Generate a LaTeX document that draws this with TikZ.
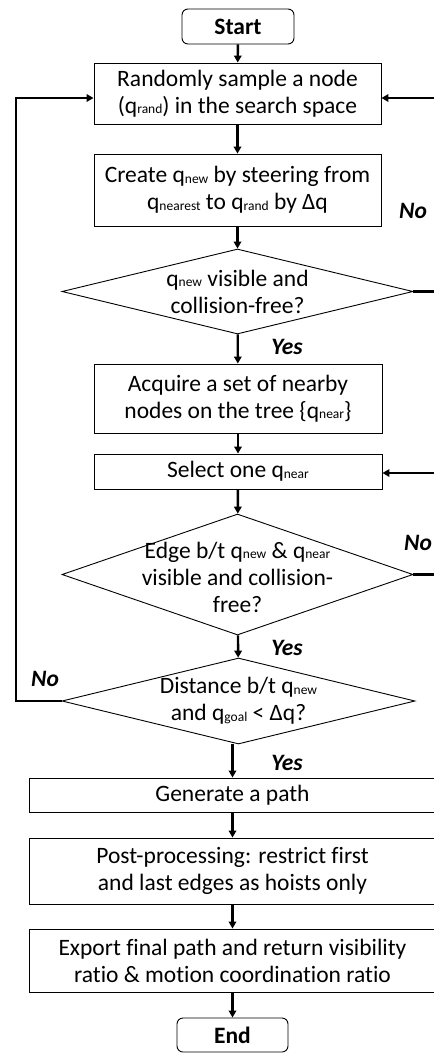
\documentclass[tikz,border=0pt]{standalone}
\usepackage{fontspec}
\setmainfont{Carlito}[Ligatures={NoCommon,NoRare}]
\usetikzlibrary{shapes.geometric,arrows.meta}
\newcommand{\qs}[1]{q\raisebox{-0.6pt}{\fontsize{13.5}{13.5}\selectfont #1}}
\begin{document}
\begin{tikzpicture}[x=1pt,y=-1pt,
  every node/.style={font=\fontsize{23.5}{27}\selectfont},
  box/.style={draw,line width=0.9pt,inner sep=0pt,align=center},
  term/.style={box,rounded corners=6pt,font=\fontsize{23.5}{27}\selectfont\bfseries},
  dia/.style={draw,line width=0.9pt,diamond,inner sep=0pt},
  dtext/.style={align=center,inner sep=0pt},
  arr/.style={line width=2.4pt,-{Triangle[length=7pt,width=7.5pt]}},
  yn/.style={font=\fontsize{23.5}{27}\selectfont\bfseries\itshape,inner sep=0pt}]
\useasboundingbox (0,0) rectangle (434,1053);
\clip (0,0) rectangle (434,1053);
\node[term,minimum width=112pt,minimum height=35pt] (start) at (238,26.5) {Start};
\node[box,minimum width=287pt,minimum height=61pt] (b1) at (237.5,93.5) {Randomly sample a node\\(\qs{rand}) in the search space};
\node[box,minimum width=287pt,minimum height=72pt] (b2) at (237.5,190) {Create \qs{new} by steering from\\\qs{nearest} to \qs{rand} by Δq};
\node[dia,minimum width=351pt,minimum height=85pt] (d1) at (237.5,291.5) {};
\node[dtext] (d1t) at (d1) {\qs{new} visible and\\collision-free?};
\node[box,minimum width=288pt,minimum height=69pt] (b3) at (238,398.5) {Acquire a set of nearby\\nodes on the tree \{\qs{near}\}};
\node[box,minimum width=288pt,minimum height=35pt] (b4) at (238,471.5) {Select one \qs{near}};
\node[dia,minimum width=351pt,minimum height=121pt] (d2) at (237.5,574.5) {};
\node[dtext] (d2t) at (237.5,577) {Edge b/t \qs{new} \& \qs{near}\\visible and collision-\\free?};
\node[dia,minimum width=353pt,minimum height=86pt] (d3) at (238.5,701) {};
\node[dtext] (d3t) at (d3) {Distance b/t \qs{new}\\and \qs{goal} < Δq?};
\node[box,minimum width=407pt,minimum height=34pt] (b5) at (232.5,795) {Generate a path};
\node[box,minimum width=407pt,minimum height=66pt] (b6) at (232.5,871) {Post-processing: restrict first\\and last edges as hoists only};
\node[box,minimum width=407pt,minimum height=63pt] (b7) at (232.5,960.5) {Export final path and return visibility\\ratio \& motion coordination ratio};
\node[term,minimum width=111pt,minimum height=34pt] (end) at (232.5,1035) {End};
\coordinate (r1) at (445,291.5);
\coordinate (r1t) at (445,98);
\coordinate (r2) at (445,574.5);
\coordinate (r2t) at (445,473);
\coordinate (l3) at (16,701);
\coordinate (l3t) at (16,98);
\draw[arr] (start) -- (b1);
\draw[arr] (b1) -- (b2);
\draw[arr] (b2) -- (d1);
\draw[arr] (d1) -- (b3);
\draw[arr] (b3) -- (b4);
\draw[arr] (b4) -- (d2);
\draw[arr] (d2) -- (d3);
\draw[arr] (d3.south -| b5.north) -- (b5.north);
\draw[arr] (b5) -- (b6);
\draw[arr] (b6) -- (b7);
\draw[arr] (b7) -- (end);
\draw[arr] (d1.east) -- (r1) -- (r1t) -- (b1.east |- r1t);
\draw[arr] (d2.east) -- (r2) -- (r2t) -- (b4.east |- r2t);
\draw[arr] (d3.west) -- (l3) -- (l3t) -- (b1.west |- l3t);
\node[yn] (n1) at (413,211) {No};
\node[yn] (y1) at (287,347) {Yes};
\node[yn] (n2) at (418,543) {No};
\node[yn] (y2) at (287,648) {Yes};
\node[yn] (n3) at (45,679) {No};
\node[yn] (y3) at (287,763) {Yes};
\end{tikzpicture}
\end{document}
